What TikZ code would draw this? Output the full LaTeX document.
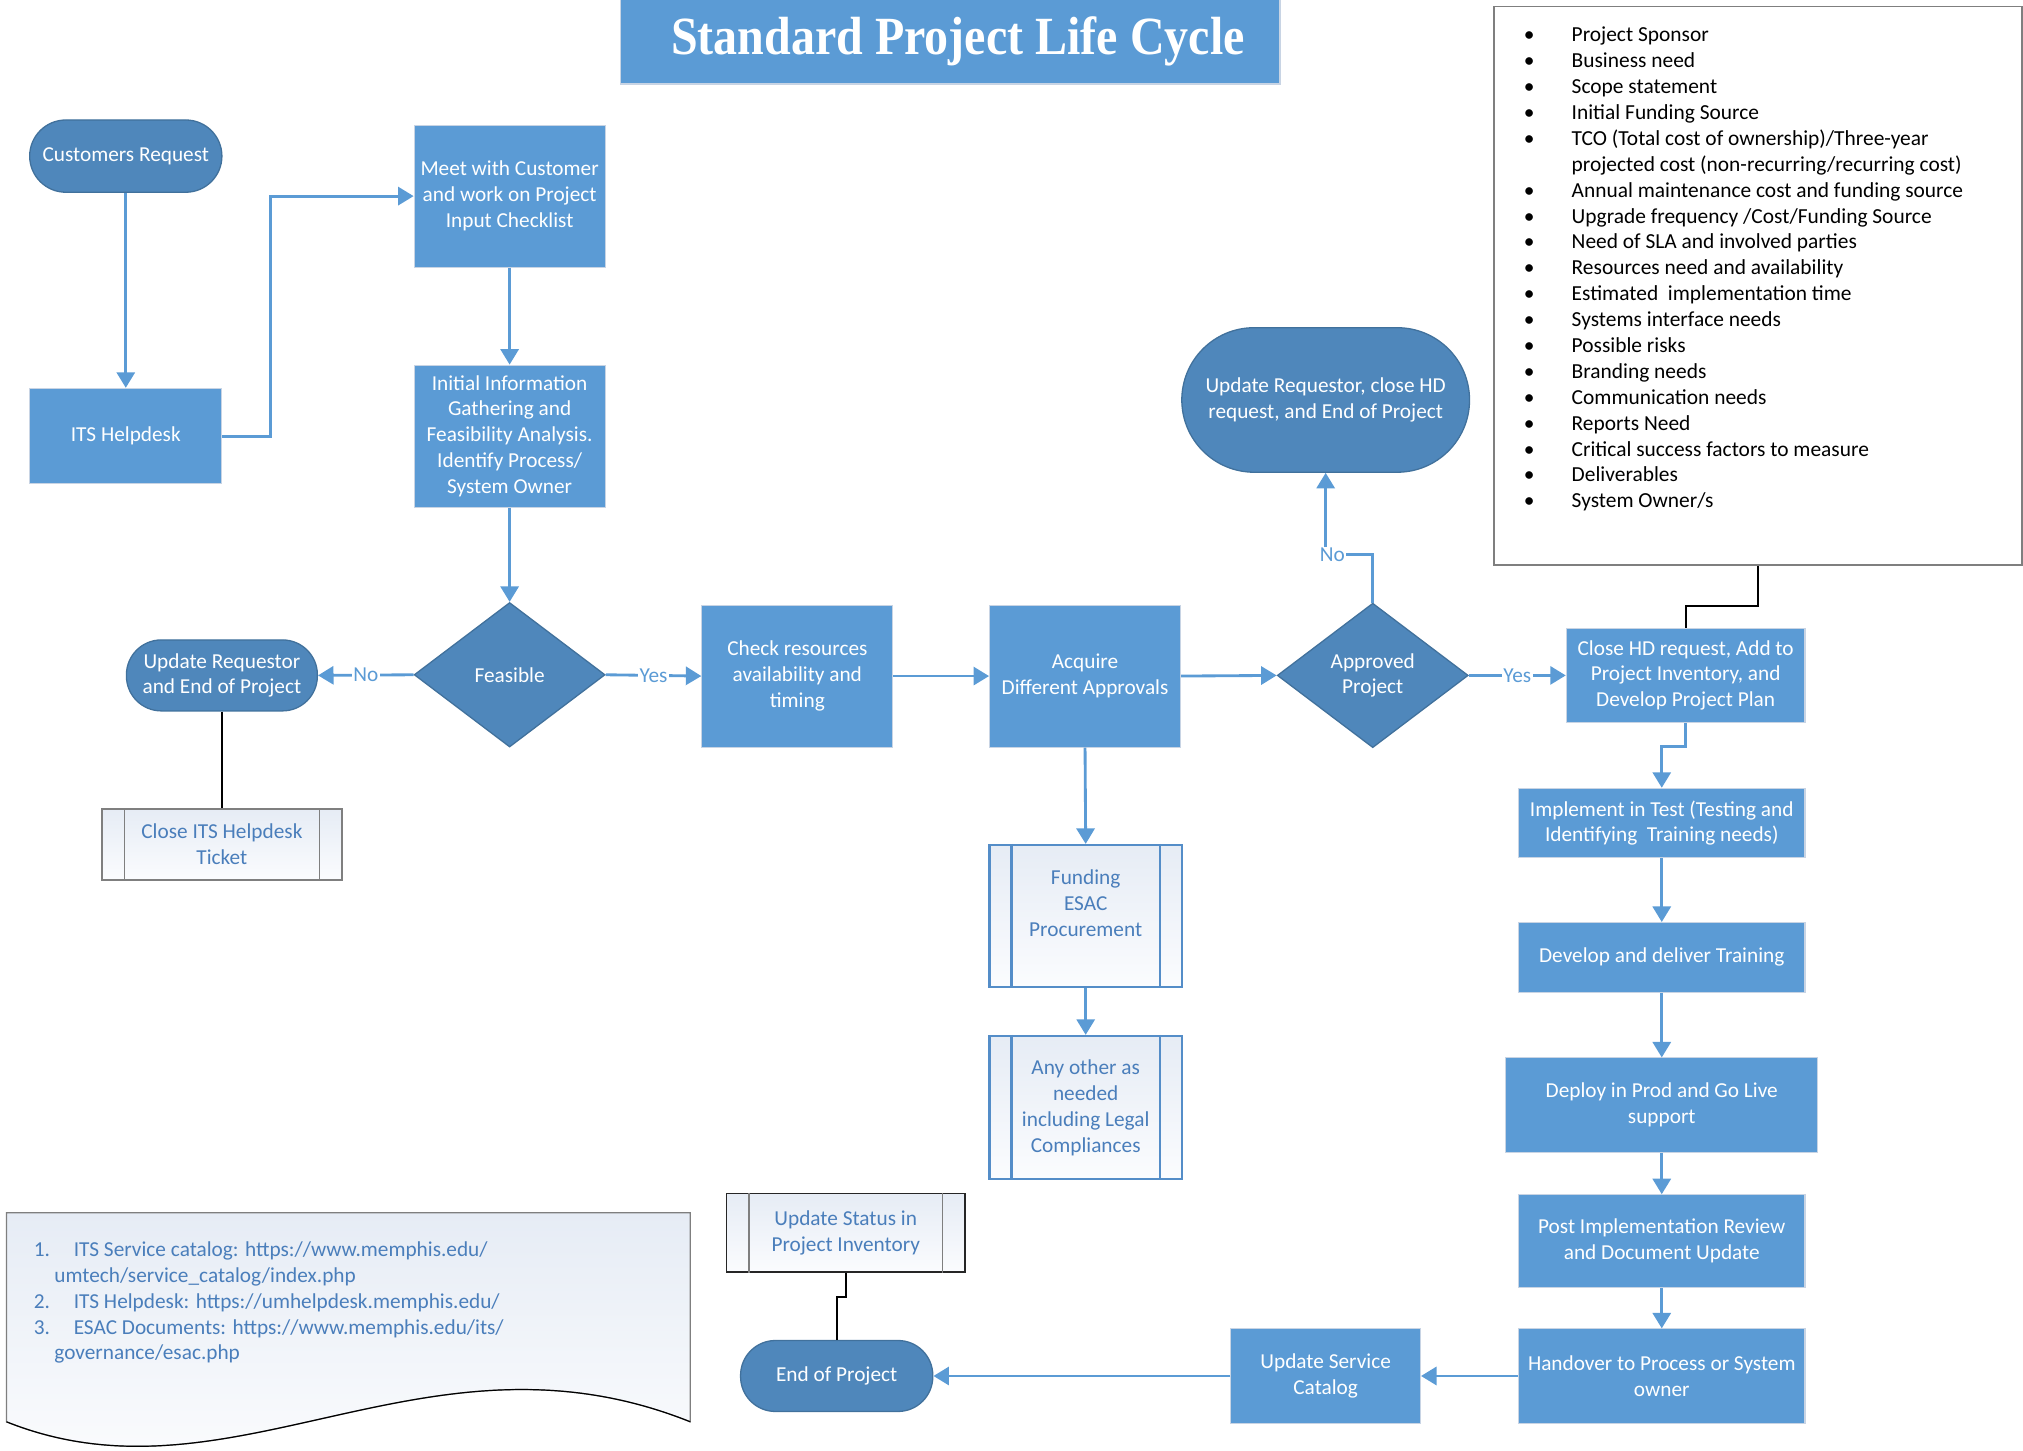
\documentclass[tikz,border=0pt]{standalone}
\usepackage{fontspec}
\usepackage{graphicx}
\setmainfont{Carlito}
\newfontfamily\titlefont{Liberation Serif}
\usetikzlibrary{arrows.meta,shapes.geometric,calc}
\definecolor{boxblue}{RGB}{91,155,213}
\definecolor{termblue}{RGB}{79,135,187}
\definecolor{termedge}{RGB}{65,113,156}
\definecolor{boxedge}{RGB}{200,212,228}
\definecolor{arrblue}{RGB}{91,155,213}
\definecolor{pptext}{RGB}{74,126,187}
\definecolor{pptop}{RGB}{230,236,245}
\definecolor{ppbot}{RGB}{251,252,254}
\definecolor{ppblue}{RGB}{84,141,200}
\definecolor{grayfive}{RGB}{127,127,127}
\begin{document}
\begin{tikzpicture}[x=1pt,y=-1pt,
  every node/.style={font=\fontsize{16.5}{20}\selectfont},
  pbox/.style={rectangle, fill=boxblue, draw=boxedge, line width=0.8pt, text=white, align=center, inner sep=2pt},
  term/.style={rectangle, fill=termblue, draw=termedge, line width=1pt, text=white, align=center, inner sep=2pt},
  dec/.style={diamond, fill=termblue, draw=termedge, line width=1pt, text=white, align=center, inner sep=0pt, minimum width=148pt, minimum height=112pt},
  ppbox/.style={rectangle, top color=pptop, bottom color=ppbot, text=pptext, align=center, inner sep=2pt},
  arr/.style={draw=arrblue, line width=2.2pt, -{Triangle[length=12pt,width=14pt]}},
  blk/.style={draw=black, line width=1.6pt},
  lbl/.style={fill=white, text=arrblue, inner sep=1pt},
  lst/.style={anchor=base west, inner sep=0pt, text=black, font=\fontsize{16.6}{20}\selectfont},
  nte/.style={anchor=base west, inner sep=0pt, text=pptext},
]
\useasboundingbox (0,0) rectangle (1568,1124);

% title
\node[rectangle, fill=boxblue, draw=boxedge, line width=1pt, minimum width=511pt, minimum height=66pt, inner sep=0pt] (title) at (736.5,32)
  {\hspace*{12pt}\titlefont\bfseries\fontsize{37.2}{40}\selectfont\color{white}\scalebox{1}[1.12]{Standard Project Life Cycle}};

% note document shape
\shade[top color=pptop, bottom color=white, draw=grayfive, line width=1pt]
  (5,940) -- (535,940) -- (535,1102) .. controls (330,1020) and (180,1172) .. (5,1102) -- cycle;
\draw[black, line width=0.9pt] (535,1102) .. controls (330,1020) and (180,1172) .. (5,1102);
\node[nte] (n1) at (26,974) {\makebox[31pt][l]{1.}ITS Service catalog: https://www.memphis.edu/};
\node[nte] (n2) at (42,994) {umtech/service\_catalog/index.php};
\node[nte] (n3) at (26,1014) {\makebox[31pt][l]{2.}ITS Helpdesk: https://umhelpdesk.memphis.edu/};
\node[nte] (n4) at (26,1034) {\makebox[31pt][l]{3.}ESAC Documents: https://www.memphis.edu/its/};
\node[nte] (n5) at (42,1054) {governance/esac.php};

% list box
\node[rectangle, draw=grayfive, line width=1.2pt, minimum width=409pt, minimum height=433pt, inner sep=0pt] (listbox) at (1362.5,221.5) {};
\foreach \b/\t [count=\i] in {
  {•}/{Project Sponsor},
  {•}/{Business need},
  {•}/{Scope statement},
  {•}/{Initial Funding Source},
  {•}/{TCO (Total cost of ownership)/Three-year},
  {}/{projected cost (non-recurring/recurring cost)},
  {•}/{Annual maintenance cost and funding source},
  {•}/{Upgrade frequency /Cost/Funding Source},
  {•}/{Need of SLA and involved parties},
  {•}/{Resources need and availability},
  {•}/{Estimated\ \ implementation time},
  {•}/{Systems interface needs},
  {•}/{Possible risks},
  {•}/{Branding needs},
  {•}/{Communication needs},
  {•}/{Reports Need},
  {•}/{Critical success factors to measure},
  {•}/{Deliverables},
  {•}/{System Owner/s}} {
  \node[lst] (li\i) at (1181,{32.5+(\i-1)*20.06}) {\makebox[37pt][l]{\b}\t};
}

% nodes
\node[term, minimum width=149pt, minimum height=56pt, rounded corners=28pt] (cust) at (97.5,121) {Customers Request};
\node[pbox, minimum width=149pt, minimum height=74pt] (its) at (97.5,338) {ITS Helpdesk};
\node[pbox, minimum width=148pt, minimum height=110pt] (meet) at (395,152) {Meet with Customer\\and work on Project\\Input Checklist};
\node[pbox, minimum width=148pt, minimum height=110pt] (init) at (395,338) {Initial Information\\Gathering and\\Feasibility Analysis.\\Identify Process/\\System Owner};
\node[dec] (feas) at (395,523) {Feasible};
\node[term, minimum width=148pt, minimum height=55pt, rounded corners=27pt] (updreq) at (172,523.5) {Update Requestor\\and End of Project};
\node[ppbox, draw=grayfive, line width=1.2pt, minimum width=186pt, minimum height=55pt] (closetk) at (172,654.5) {Close ITS Helpdesk\\Ticket};
\node[pbox, minimum width=148pt, minimum height=110pt] (check) at (618,524) {Check resources\\availability and\\timing};
\node[pbox, minimum width=148pt, minimum height=110pt] (acq) at (841,524) {Acquire\\Different Approvals};
\node[dec] (appr) at (1064,523.5) {Approved\\Project};
\node[term, minimum width=223pt, minimum height=112pt, rounded corners=56pt] (updhd) at (1027.5,310) {Update Requestor, close HD\\request, and End of Project};
\node[pbox, minimum width=185pt, minimum height=73pt] (closehd) at (1306.5,523.5) {Close HD request, Add to\\Project Inventory, and\\Develop Project Plan};
\node[pbox, minimum width=222pt, minimum height=54pt] (impl) at (1288,638) {Implement in Test (Testing and\\Identifying\ \ Training needs)};
\node[pbox, minimum width=222pt, minimum height=54pt] (devt) at (1288,742) {Develop and deliver Training};
\node[pbox, minimum width=242pt, minimum height=73pt] (deploy) at (1288,856.5) {Deploy in Prod and Go Live\\support};
\node[pbox, minimum width=222pt, minimum height=72pt] (post) at (1288,962) {Post Implementation Review\\and Document Update};
\node[pbox, minimum width=222pt, minimum height=73pt] (hand) at (1288,1066.5) {Handover to Process or System\\owner};
\node[pbox, minimum width=147pt, minimum height=73pt] (usc) at (1027.5,1066.5) {Update Service\\Catalog};
\node[term, minimum width=149pt, minimum height=55pt, rounded corners=27pt] (endp) at (648.5,1066.5) {End of Project};
\node[ppbox, draw=black!85, line width=1.2pt, minimum width=185pt, minimum height=61pt] (updstat) at (655.5,955.5) {Update Status in\\Project Inventory};
\node[ppbox, draw=ppblue, line width=1.8pt, minimum width=149pt, minimum height=110pt] (fund) at (841.5,710) {Funding\\ESAC\\Procurement\\\mbox{}};
\node[ppbox, draw=ppblue, line width=1.8pt, minimum width=149pt, minimum height=111pt] (anyo) at (841.5,858.5) {Any other as\\needed\\including Legal\\Compliances};

% inner lines of predefined-process boxes
\foreach \n/\c/\w in {closetk/grayfive/1.2pt, fund/ppblue/1.8pt, anyo/ppblue/1.8pt, updstat/grayfive/1.2pt} {
  \draw[draw=\c, line width=\w] ($(\n.north west)+(18,0)$) -- ($(\n.south west)+(18,0)$);
  \draw[draw=\c, line width=\w] ($(\n.north east)+(-18,0)$) -- ($(\n.south east)+(-18,0)$);
}

% black connectors
\draw[blk] (updreq.south) -- (closetk.north);
\draw[blk] (listbox.south) -- ++(0,31) -| (closehd.north);
\draw[blk] (updstat.south) -- ++(0,19) -| (endp.north);

% arrows
\draw[arr] (cust.south) -- (its.north);
\draw[arr] (its.east) -- ++(37,0) |- (meet.west);
\draw[arr] (meet.south) -- (init.north);
\draw[arr] (init.south) -- (feas.north);
\draw[arr] (feas.west) -- node[lbl]{No} (updreq.east);
\draw[arr] (feas.east) -- node[lbl]{Yes} (check.west);
\draw[arr] (check.east) -- (acq.west);
\draw[arr] (acq.east) -- (appr.west);
\draw[arr] (appr.north) -- ++(0,-37) -| node[lbl,pos=0.43]{No} (updhd.south);
\draw[arr] (appr.east) -- node[lbl]{Yes} (closehd.west);
\draw[arr] (acq.south) -- (fund.north);
\draw[arr] (fund.south) -- (anyo.north);
\draw[arr] (closehd.south) -- ++(0,18) -| (impl.north);
\draw[arr] (impl.south) -- (devt.north);
\draw[arr] (devt.south) -- (deploy.north);
\draw[arr] (deploy.south) -- (post.north);
\draw[arr] (post.south) -- (hand.north);
\draw[arr] (hand.west) -- (usc.east);
\draw[arr] (usc.west) -- (endp.east);
\end{tikzpicture}
\end{document}
